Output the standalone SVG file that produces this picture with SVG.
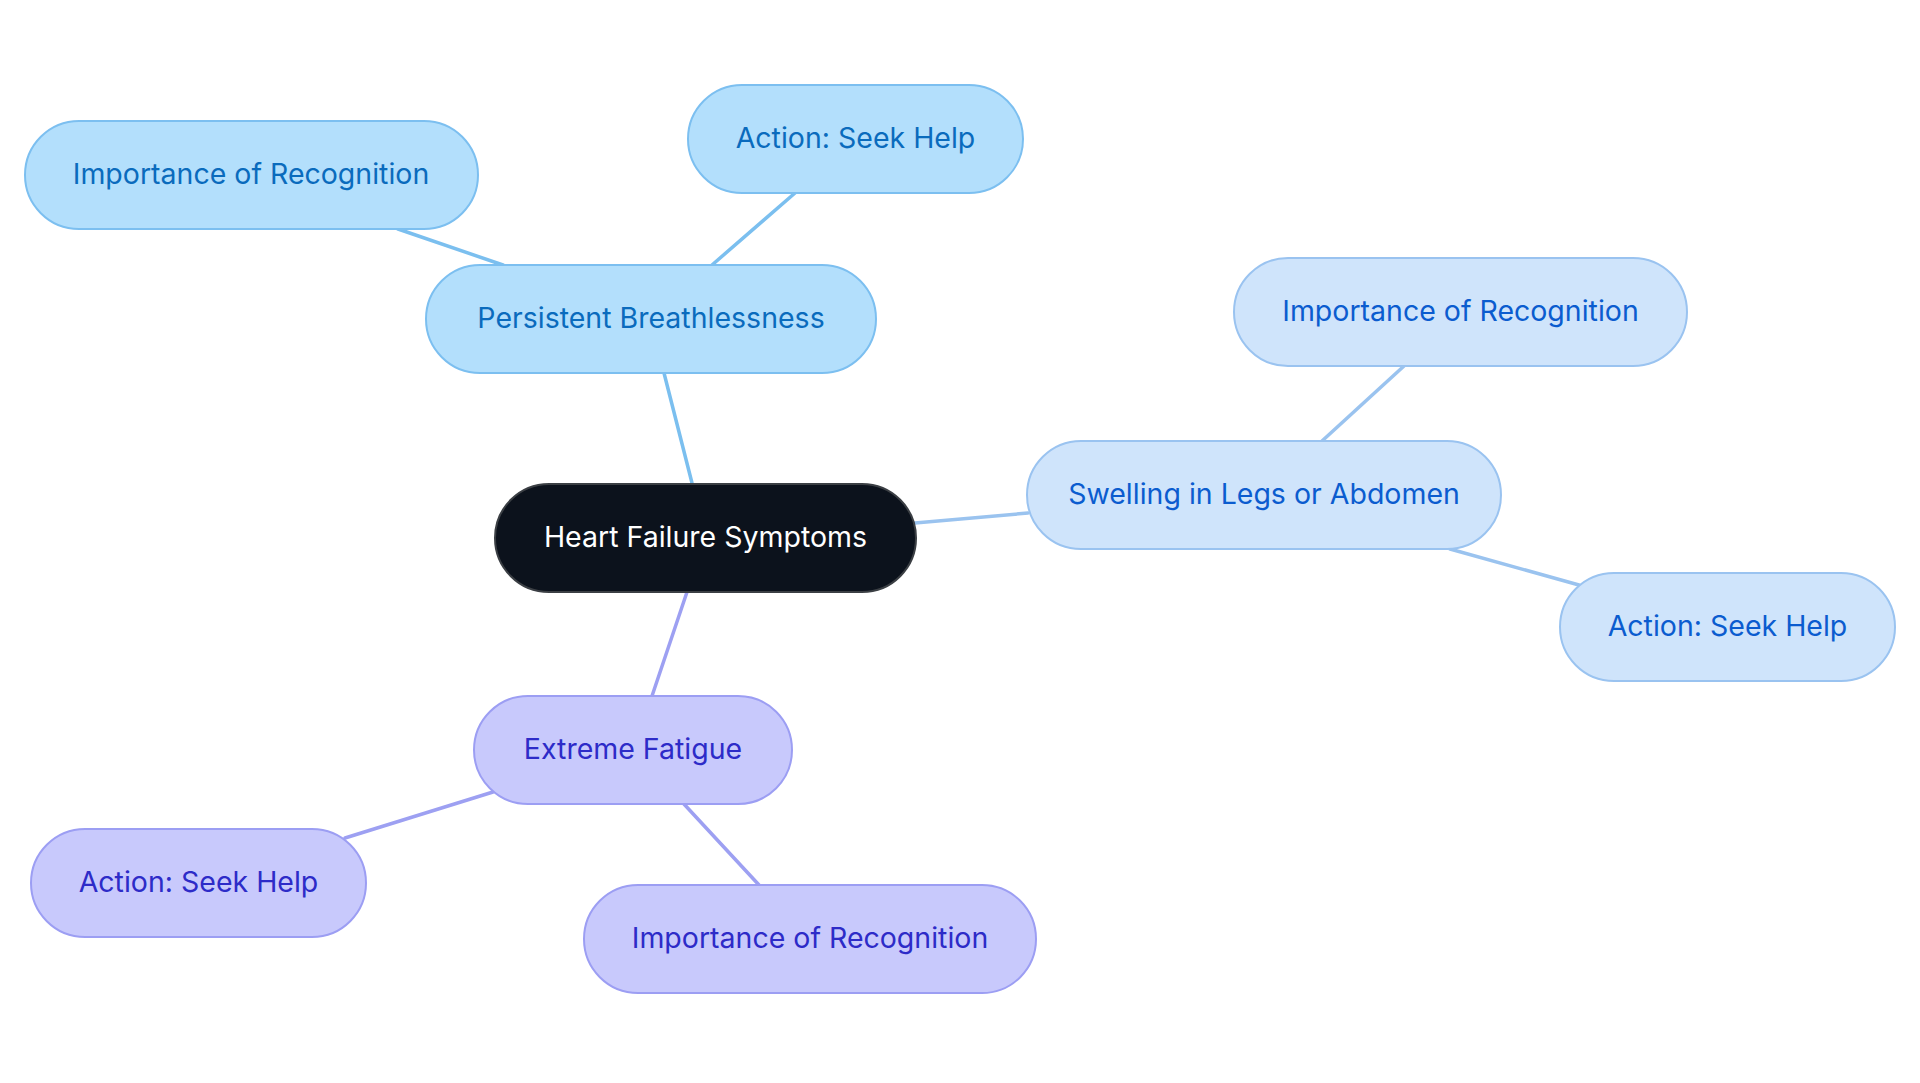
<svg xmlns="http://www.w3.org/2000/svg" width="1920" height="1083" viewBox="0 0 1920 1083">
<style>
text{font-family:Inter,"Noto Sans","Liberation Sans",sans-serif;font-size:28.5px;text-anchor:middle}
.edge{fill:none;stroke-width:3.5;stroke-linecap:round}
.b rect{fill:#b3dffc;stroke:#7cbff0;stroke-width:2}
.b text{fill:#0a6bbd}
.s rect{fill:#cfe4fb;stroke:#9ac3f0;stroke-width:2}
.s text{fill:#0b5ccf}
.f rect{fill:#c8c9fc;stroke:#9c9ef3;stroke-width:2}
.f text{fill:#2d2bc8}
.eb{stroke:#7bbfef}
.es{stroke:#9ac3ef}
.ef{stroke:#9da0f2}
</style>
<rect width="1920" height="1083" fill="#ffffff"/>
<g id="connectors">
<line class="edge eb" x1="692" y1="483" x2="664" y2="373"/>
<line class="edge eb" x1="503" y1="265" x2="398" y2="229"/>
<line class="edge eb" x1="712" y1="265" x2="795" y2="193"/>
<line class="edge es" x1="915" y1="523" x2="1028" y2="513"/>
<line class="edge es" x1="1322" y1="441" x2="1404" y2="366"/>
<line class="edge es" x1="1450" y1="549" x2="1579" y2="585"/>
<line class="edge ef" x1="687" y1="592" x2="652" y2="696"/>
<line class="edge ef" x1="493" y1="792" x2="345" y2="838"/>
<line class="edge ef" x1="683" y1="803" x2="759" y2="885"/>
</g>
<g id="root">
<rect x="495" y="484" width="421" height="108" rx="54" fill="#0c121c" stroke="#3b3f44" stroke-width="2"/>
<text x="705.5" y="547" fill="#ffffff">Heart Failure Symptoms</text>
</g>
<g id="breathlessness" class="b">
<rect x="426" y="265" width="450" height="108" rx="54"/>
<text x="651" y="328">Persistent Breathlessness</text>
</g>
<g id="breath-importance" class="b">
<rect x="25" y="121" width="453" height="108" rx="54"/>
<text x="251" y="184">Importance of Recognition</text>
</g>
<g id="breath-action" class="b">
<rect x="688" y="85" width="335" height="108" rx="54"/>
<text x="855.5" y="148">Action: Seek Help</text>
</g>
<g id="swelling" class="s">
<rect x="1027" y="441" width="474" height="108" rx="54"/>
<text x="1264" y="504">Swelling in Legs or Abdomen</text>
</g>
<g id="swell-importance" class="s">
<rect x="1234" y="258" width="453" height="108" rx="54"/>
<text x="1460.5" y="321">Importance of Recognition</text>
</g>
<g id="swell-action" class="s">
<rect x="1560" y="573" width="335" height="108" rx="54"/>
<text x="1727.5" y="636">Action: Seek Help</text>
</g>
<g id="fatigue" class="f">
<rect x="474" y="696" width="318" height="108" rx="54"/>
<text x="633" y="759">Extreme Fatigue</text>
</g>
<g id="fatigue-action" class="f">
<rect x="31" y="829" width="335" height="108" rx="54"/>
<text x="198.5" y="892">Action: Seek Help</text>
</g>
<g id="fatigue-importance" class="f">
<rect x="584" y="885" width="452" height="108" rx="54"/>
<text x="810" y="948">Importance of Recognition</text>
</g>
</svg>
